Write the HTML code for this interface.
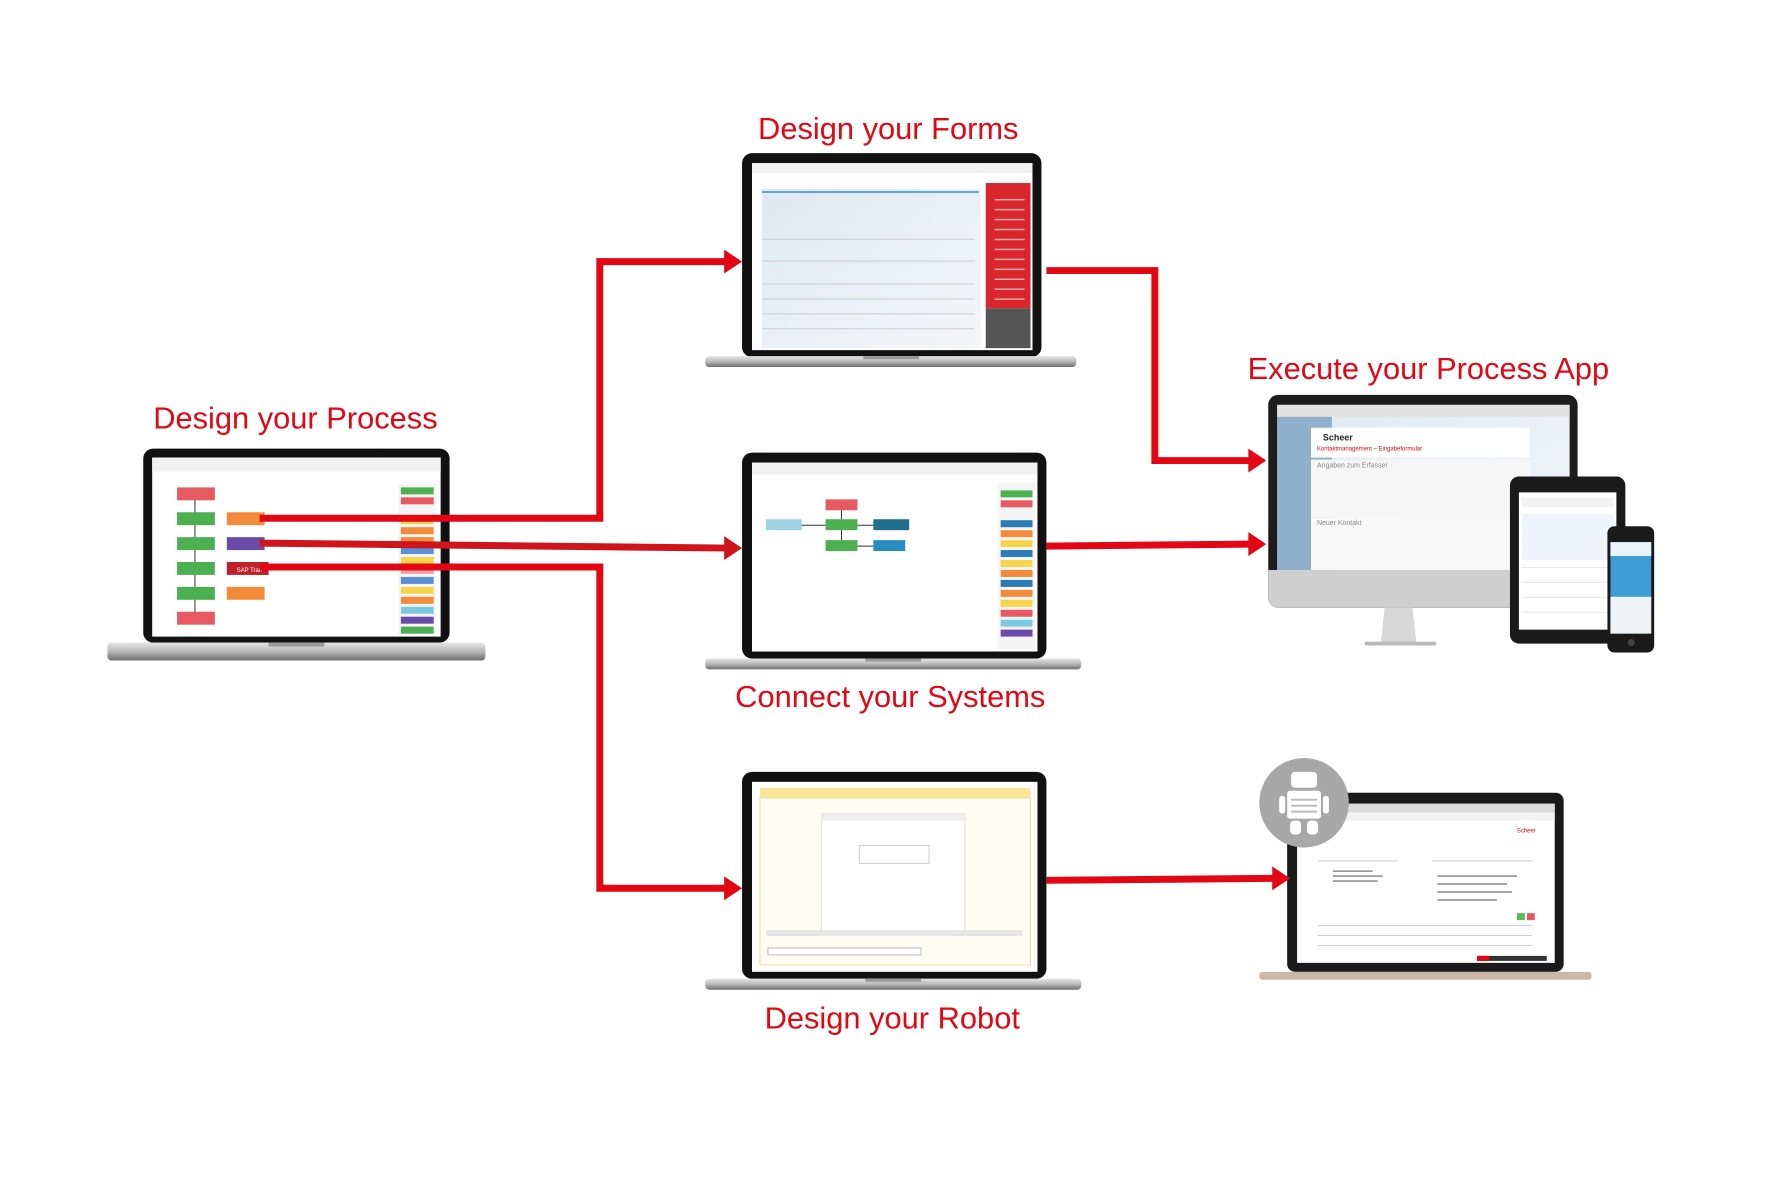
<!DOCTYPE html>
<html><head><meta charset="utf-8"><style>
html,body{margin:0;padding:0;background:#fff;width:1771px;height:1181px;overflow:hidden}
svg{display:block}
text{font-family:"Liberation Sans",sans-serif}
.t{fill:#e30613;font-size:31px}
</style></head><body>
<svg width="1771" height="1181" viewBox="0 0 1771 1181" xmlns="http://www.w3.org/2000/svg">
<defs>
<linearGradient id="base" x1="0" y1="0" x2="0" y2="1"><stop offset="0" stop-color="#e6e6e6"/><stop offset="0.5" stop-color="#b8b8b8"/><stop offset="1" stop-color="#6d6d6d"/></linearGradient>
<linearGradient id="sky" x1="0" y1="0" x2="1" y2="1"><stop offset="0" stop-color="#dfe9f2"/><stop offset="1" stop-color="#f4f6f8"/></linearGradient>
</defs>
<g transform="scale(0.9947)">
<!-- Titles -->
<text class="t" x="893" y="140" text-anchor="middle">Design your Forms</text>
<text class="t" x="297" y="431" text-anchor="middle">Design your Process</text>
<text class="t" x="1436" y="381" text-anchor="middle">Execute your Process App</text>
<text class="t" x="895" y="711" text-anchor="middle">Connect your Systems</text>
<text class="t" x="897" y="1034" text-anchor="middle">Design your Robot</text>

<!-- Process laptop -->
<rect x="144" y="451" width="308" height="195" rx="10" fill="#111"/>
<rect x="153" y="460" width="290" height="180" fill="#fff"/>
<rect x="153" y="460" width="290" height="14" fill="#f2f2f2"/>
<rect x="400" y="486" width="38" height="152" fill="#f5f5f5"/>
<g>
<rect x="403" y="490" width="33" height="7" fill="#4caf50"/><rect x="403" y="500" width="33" height="7" fill="#e85a62"/>
<rect x="403" y="520" width="33" height="7" fill="#f7d54a"/><rect x="403" y="530" width="33" height="7" fill="#f28c3b"/>
<rect x="403" y="540" width="33" height="7" fill="#f28c3b"/><rect x="403" y="550" width="33" height="7" fill="#5b8fd6"/>
<rect x="403" y="560" width="33" height="7" fill="#f7d54a"/><rect x="403" y="570" width="33" height="7" fill="#f4a0a6"/>
<rect x="403" y="580" width="33" height="7" fill="#5b8fd6"/><rect x="403" y="590" width="33" height="7" fill="#f7d54a"/>
<rect x="403" y="600" width="33" height="7" fill="#f28c3b"/><rect x="403" y="610" width="33" height="7" fill="#7ac9e0"/>
<rect x="403" y="620" width="33" height="7" fill="#6b4aa8"/><rect x="403" y="630" width="33" height="7" fill="#4caf50"/>
</g>
<line x1="196" y1="500" x2="196" y2="620" stroke="#333" stroke-width="1"/>
<rect x="178" y="490" width="38" height="13" fill="#e85a62"/>
<rect x="178" y="515" width="38" height="13" fill="#4caf50"/><rect x="228" y="515" width="38" height="13" fill="#f28c3b"/>
<rect x="178" y="540" width="38" height="13" fill="#4caf50"/><rect x="228" y="540" width="38" height="13" fill="#6b4aa8"/>
<rect x="178" y="565" width="38" height="13" fill="#4caf50"/><rect x="228" y="565" width="42" height="13" fill="#c0202a"/>
<rect x="178" y="590" width="38" height="13" fill="#4caf50"/><rect x="228" y="590" width="38" height="13" fill="#f28c3b"/>
<rect x="178" y="615" width="38" height="13" fill="#e85a62"/>
<text x="238" y="575" font-size="6" fill="#fff">SAP Tran</text>
<rect x="108" y="646" width="380" height="18" rx="4" fill="url(#base)"/>
<rect x="270" y="646" width="56" height="4" fill="#999"/>

<!-- Forms laptop -->
<rect x="746" y="154" width="301" height="205" rx="10" fill="#111"/>
<rect x="756" y="164" width="282" height="188" fill="#fff"/>
<rect x="756" y="164" width="282" height="10" fill="#f0f0f0"/>
<rect x="766" y="190" width="220" height="160" fill="url(#sky)"/>
<rect x="766" y="192" width="218" height="2" fill="#5aa7d8"/>
<g fill="#ccc"><rect x="766" y="240" width="214" height="1"/><rect x="766" y="262" width="214" height="1"/><rect x="766" y="285" width="214" height="1"/><rect x="766" y="300" width="214" height="1"/><rect x="766" y="315" width="214" height="1"/><rect x="766" y="330" width="214" height="1"/></g>
<rect x="991" y="184" width="45" height="126" fill="#d9262c"/>
<rect x="991" y="310" width="45" height="40" fill="#555"/>
<g fill="#f3a7aa"><rect x="1000" y="200" width="30" height="1.5"/><rect x="1000" y="210" width="30" height="1.5"/><rect x="1000" y="220" width="30" height="1.5"/><rect x="1000" y="230" width="30" height="1.5"/><rect x="1000" y="240" width="30" height="1.5"/><rect x="1000" y="250" width="30" height="1.5"/><rect x="1000" y="260" width="30" height="1.5"/><rect x="1000" y="270" width="30" height="1.5"/><rect x="1000" y="280" width="30" height="1.5"/><rect x="1000" y="290" width="30" height="1.5"/><rect x="1000" y="300" width="30" height="1.5"/></g>
<rect x="709" y="358" width="373" height="11" rx="4" fill="url(#base)"/>
<rect x="868" y="358" width="56" height="3" fill="#999"/>

<!-- Systems laptop -->
<rect x="746" y="455" width="306" height="207" rx="10" fill="#111"/>
<rect x="756" y="465" width="287" height="190" fill="#fff"/>
<rect x="756" y="465" width="287" height="12" fill="#f0f0f0"/>
<rect x="1003" y="485" width="38" height="168" fill="#f5f5f5"/>
<g>
<rect x="1006" y="493" width="32" height="7" fill="#4caf50"/><rect x="1006" y="503" width="32" height="7" fill="#e85a62"/>
<rect x="1006" y="523" width="32" height="7" fill="#2d7bb5"/><rect x="1006" y="533" width="32" height="7" fill="#f28c3b"/>
<rect x="1006" y="543" width="32" height="7" fill="#f7d54a"/><rect x="1006" y="553" width="32" height="7" fill="#2d7bb5"/>
<rect x="1006" y="563" width="32" height="7" fill="#f7d54a"/><rect x="1006" y="573" width="32" height="7" fill="#f28c3b"/>
<rect x="1006" y="583" width="32" height="7" fill="#2d7bb5"/><rect x="1006" y="593" width="32" height="7" fill="#f28c3b"/>
<rect x="1006" y="603" width="32" height="7" fill="#f7d54a"/><rect x="1006" y="613" width="32" height="7" fill="#e85a62"/>
<rect x="1006" y="623" width="32" height="7" fill="#7ac9e0"/><rect x="1006" y="633" width="32" height="7" fill="#6b4aa8"/>
</g>
<line x1="846" y1="510" x2="846" y2="550" stroke="#333"/><line x1="800" y1="528" x2="910" y2="528" stroke="#333"/><line x1="846" y1="549" x2="895" y2="549" stroke="#333"/>
<rect x="830" y="502" width="32" height="11" fill="#e85a62"/>
<rect x="770" y="522" width="36" height="11" fill="#9fd3e3"/>
<rect x="830" y="522" width="32" height="11" fill="#4caf50"/>
<rect x="878" y="522" width="36" height="11" fill="#1f6e8e"/>
<rect x="830" y="543" width="32" height="11" fill="#4caf50"/>
<rect x="878" y="543" width="32" height="11" fill="#2a8dc0"/>
<rect x="709" y="662" width="378" height="11" rx="4" fill="url(#base)"/>
<rect x="870" y="662" width="56" height="3" fill="#999"/>

<!-- Robot laptop -->
<rect x="746" y="776" width="306" height="208" rx="10" fill="#111"/>
<rect x="756" y="786" width="287" height="191" fill="#fff"/>
<rect x="764" y="792" width="272" height="10" fill="#fbe59a"/>
<rect x="764" y="802" width="272" height="168" fill="#fffdf3" stroke="#f3dc8c"/>
<rect x="826" y="818" width="144" height="118" fill="#fff" stroke="#ddd"/>
<rect x="826" y="818" width="144" height="7" fill="#eee"/>
<rect x="864" y="850" width="70" height="18" fill="#fff" stroke="#ccc"/>
<rect x="770" y="935" width="258" height="6" fill="#e6e6e6"/>
<rect x="772" y="953" width="154" height="7" fill="#fff" stroke="#bbb"/>
<rect x="709" y="984" width="378" height="11" rx="4" fill="url(#base)"/>
<rect x="870" y="984" width="56" height="3" fill="#999"/>

<!-- Execute: monitor -->
<rect x="1275" y="397" width="311" height="214" rx="10" fill="#1d1d1d"/>
<rect x="1284" y="407" width="294" height="166" fill="url(#sky)"/>
<rect x="1284" y="407" width="294" height="12" fill="#e2e2e2"/>
<rect x="1284" y="419" width="55" height="154" fill="#8fb0cc"/>
<rect x="1318" y="430" width="220" height="30" fill="#fff"/>
<text x="1330" y="443" font-size="9" font-weight="bold" fill="#222">Scheer</text>
<text x="1324" y="453" font-size="6" fill="#e30613">Kontaktmanagement – Eingabeformular</text>
<rect x="1318" y="462" width="220" height="58" fill="#f6f6f6"/>
<text x="1324" y="470" font-size="7" fill="#888">Angaben zum Erfasser</text>
<rect x="1318" y="520" width="200" height="53" fill="#f8f8f8"/>
<text x="1324" y="528" font-size="7" fill="#888">Neuer Kontakt</text>
<path d="M1275 573h311v28a10 10 0 0 1-10 10H1285a10 10 0 0 1-10-10z" fill="#cfcfcf"/>
<path d="M1392 611h28l4 36h-36z" fill="#d8d8d8"/>
<rect x="1372" y="645" width="72" height="4" rx="2" fill="#bbb"/>
<!-- tablet -->
<rect x="1518" y="479" width="116" height="168" rx="9" fill="#1a1a1a"/>
<rect x="1527" y="495" width="98" height="138" fill="#fff"/>
<rect x="1530" y="500" width="92" height="10" fill="#f3f3f3"/>
<g fill="#e6e6e6"><rect x="1530" y="525" width="92" height="1"/><rect x="1530" y="540" width="92" height="1"/><rect x="1530" y="555" width="92" height="1"/><rect x="1530" y="570" width="92" height="1"/><rect x="1530" y="585" width="92" height="1"/><rect x="1530" y="600" width="92" height="1"/><rect x="1530" y="615" width="92" height="1"/></g>
<rect x="1530" y="517" width="92" height="46" fill="#eef4f9"/>
<!-- phone -->
<rect x="1616" y="529" width="47" height="127" rx="7" fill="#1a1a1a"/>
<rect x="1619" y="545" width="41" height="92" fill="#3d9bd6"/>
<rect x="1619" y="545" width="41" height="14" fill="#eaf3f9"/>
<rect x="1619" y="600" width="41" height="37" fill="#eef2f5"/>
<circle cx="1640" cy="646" r="3.5" fill="#444"/>

<!-- Robot target laptop -->
<rect x="1294" y="797" width="278" height="180" rx="8" fill="#1a1a1a"/>
<rect x="1304" y="808" width="259" height="160" fill="#fff"/>
<rect x="1304" y="808" width="259" height="9" fill="#dcdcdc"/>
<rect x="1304" y="817" width="259" height="8" fill="#f2f2f2"/>
<text x="1525" y="837" font-size="6" fill="#e30613">Scheer</text>
<g fill="#ccc"><rect x="1325" y="865" width="80" height="1"/><rect x="1440" y="865" width="100" height="1"/><rect x="1325" y="930" width="215" height="1"/><rect x="1325" y="940" width="215" height="1"/><rect x="1325" y="950" width="215" height="1"/></g>
<g fill="#888"><rect x="1340" y="875" width="40" height="1.5"/><rect x="1340" y="880" width="50" height="1.5"/><rect x="1340" y="885" width="45" height="1.5"/><rect x="1445" y="880" width="80" height="1.5"/><rect x="1445" y="888" width="70" height="1.5"/><rect x="1445" y="896" width="75" height="1.5"/><rect x="1445" y="904" width="60" height="1.5"/></g>
<rect x="1525" y="918" width="8" height="7" fill="#5cb85c"/><rect x="1535" y="918" width="8" height="7" fill="#e85a62"/>
<rect x="1485" y="961" width="70" height="5" fill="#333"/><rect x="1485" y="961" width="12" height="5" fill="#e30613"/>
<rect x="1266" y="977" width="334" height="8" rx="3" fill="#c9b8a6"/>
<circle cx="1311" cy="807" r="45" fill="#a8a8a8"/>
<g fill="#fff">
<rect x="1298" y="776" width="26" height="16" rx="4"/>
<rect x="1294" y="795" width="34" height="28" rx="3"/>
<rect x="1286" y="800" width="6" height="18" rx="3"/><rect x="1330" y="800" width="6" height="18" rx="3"/>
<rect x="1297" y="825" width="11" height="14" rx="4"/><rect x="1314" y="825" width="11" height="14" rx="4"/>
</g>
<g fill="#bbb"><rect x="1298" y="803" width="26" height="2"/><rect x="1298" y="809" width="26" height="2"/><rect x="1298" y="815" width="26" height="2"/></g>

<!-- Connectors -->
<g fill="none" stroke="#e30613" stroke-width="7" stroke-linejoin="miter">
<polyline points="261,521 603,521 603,263 732,263"/>
<polyline points="261,546 732,551" stroke="#d0141c"/>
<polyline points="261,570 603,570 603,893 732,893"/>
<polyline points="1052,272 1161,272 1161,463 1257,463"/>
<polyline points="1052,549 1257,547"/>
<polyline points="1052,885 1281,883"/>
</g>
<g fill="#e30613">
<polygon points="746,263 728,251 728,275"/>
<polygon points="746,551 728,539 728,563" fill="#d0141c"/>
<polygon points="746,893 728,881 728,905"/>
<polygon points="1273,463 1255,451 1255,475"/>
<polygon points="1273,547 1255,535 1255,559"/>
<polygon points="1297,883 1279,871 1279,895"/>
</g>
</g>
</svg>
</body></html>
